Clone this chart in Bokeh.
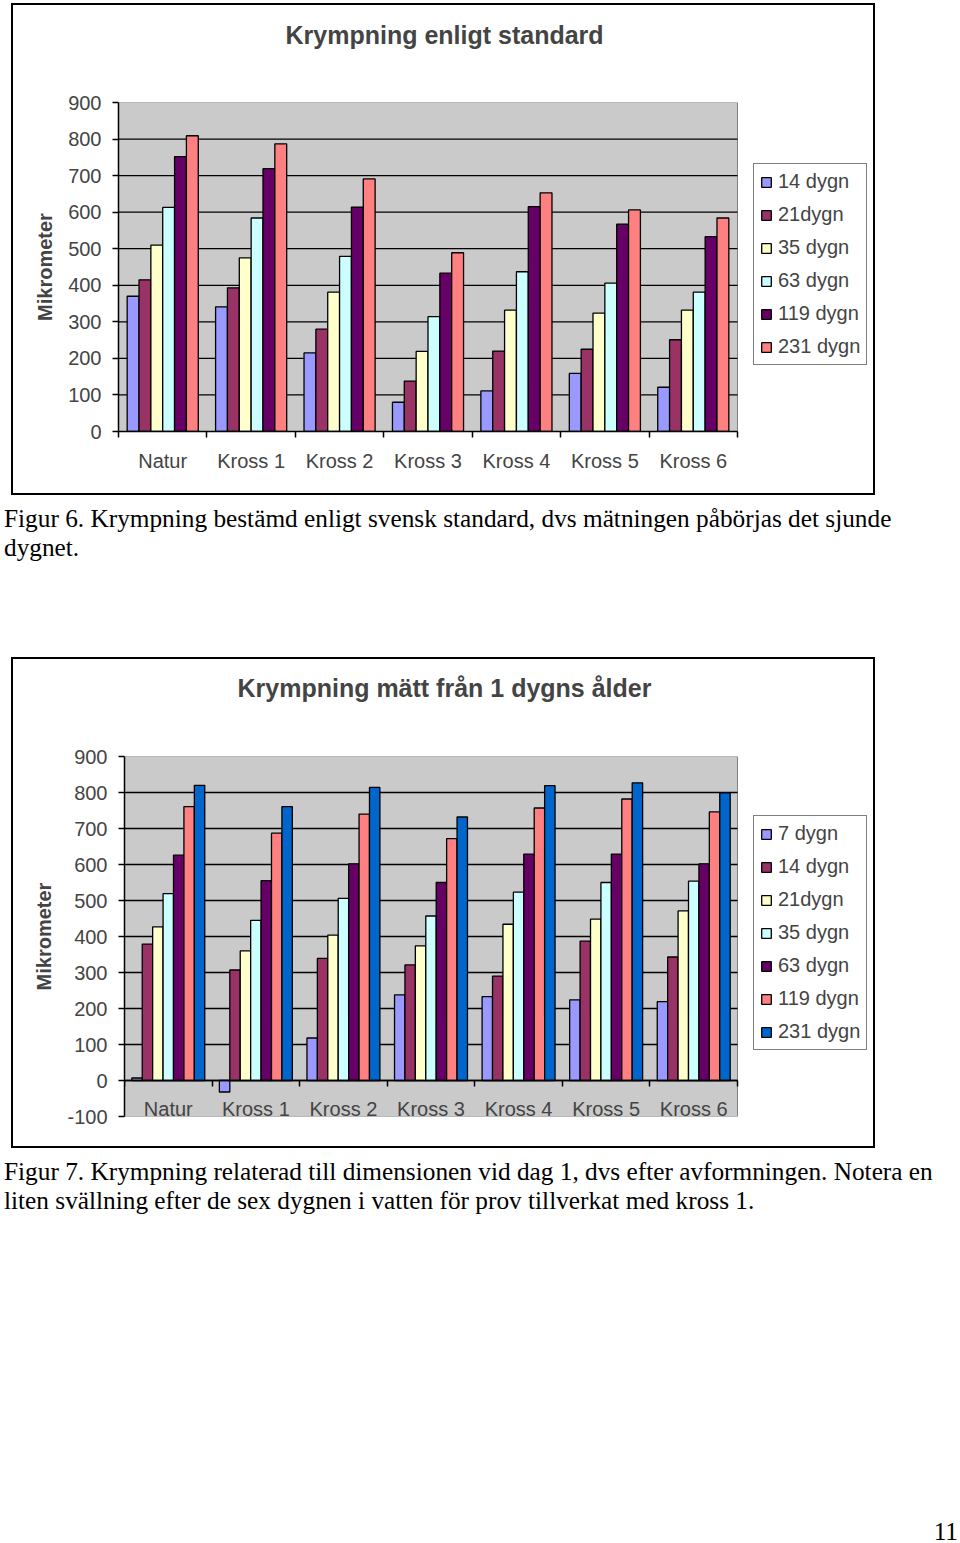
import numpy as np
from bokeh.plotting import figure
from bokeh.models import Range1d, FixedTicker, Legend, LegendItem, Div, ColumnDataSource, Title
from bokeh.layouts import column
from bokeh.embed import file_html
from bokeh.resources import INLINE

# ---------------- data ----------------
categories = ["Natur", "Kross 1", "Kross 2", "Kross 3", "Kross 4", "Kross 5", "Kross 6"]

# Figure 6: shrinkage according to standard
fig6_title = "Krympning enligt standard"
fig6_series = ["14 dygn", "21dygn", "35 dygn", "63 dygn", "119 dygn", "231 dygn"]
fig6_d14 = [370, 341, 215, 80, 111, 159, 121]
fig6_d21 = [415, 393, 280, 138, 220, 225, 251]
fig6_d35 = [510, 475, 381, 219, 332, 324, 332]
fig6_d63 = [613, 584, 479, 314, 437, 406, 381]
fig6_d119 = [752, 719, 614, 433, 615, 567, 533]
fig6_d231 = [809, 787, 691, 489, 653, 606, 584]
fig6_colors = ["#9999FF", "#993366", "#FFFFCC", "#CCFFFF", "#660066", "#FF8080"]
fig6_yticks = [0, 100, 200, 300, 400, 500, 600, 700, 800, 900]

# Figure 7: shrinkage measured from day 1
fig7_title = "Krympning mätt från 1 dygns ålder"
fig7_series = ["7 dygn", "14 dygn", "21dygn", "35 dygn", "63 dygn", "119 dygn", "231 dygn"]
fig7_d7 = [7, -32, 118, 238, 233, 224, 219]
fig7_d14 = [379, 307, 339, 321, 290, 387, 343]
fig7_d21 = [427, 360, 404, 374, 434, 448, 471]
fig7_d35 = [519, 445, 506, 457, 523, 550, 554]
fig7_d63 = [626, 555, 602, 550, 629, 629, 602]
fig7_d119 = [761, 687, 740, 672, 757, 782, 746]
fig7_d231 = [820, 761, 814, 732, 819, 827, 799]
fig7_colors = ["#9999FF", "#993366", "#FFFFCC", "#CCFFFF", "#660066", "#FF8080", "#0066CC"]
fig7_yticks = [-100, 0, 100, 200, 300, 400, 500, 600, 700, 800, 900]

caption6 = ("Figur 6. Krympning bestämd enligt svensk standard, dvs mätningen påbörjas det sjunde<br>"
            "dygnet.")
caption7 = ("Figur 7. Krympning relaterad till dimensionen vid dag 1, dvs efter avformningen. Notera en<br>"
            "liten svällning efter de sex dygnen i vatten för prov tillverkat med kross 1.")
page_number = "11"

SANS = "Liberation Sans"
SERIF = "Liberation Serif"


def box_css(l, t, r, b, w=2):
    """Chart border drawn as four background lines on the (transparent) canvas host."""
    g = "linear-gradient(#000,#000)"
    return {"background": ", ".join([
        f"{g} left {l}px top {t}px / {w}px calc(100% - {t + b}px) no-repeat",
        f"{g} right {r}px top {t}px / {w}px calc(100% - {t + b}px) no-repeat",
        f"{g} left {l}px top {t}px / calc(100% - {l + r}px) {w}px no-repeat",
        f"{g} left {l}px bottom {b}px / calc(100% - {l + r}px) {w}px no-repeat",
    ])}


def make_chart(title, title_offset, spacer, series_names, series_values, colors, yticks,
               bar_width, width, height, plot_w, extra_w, min_top, min_bottom,
               legend_loc, xlabel_standoff, fixed_zero, margin, box):
    n = len(series_names)
    ncat = len(categories)
    x0, x1 = -0.5, ncat - 0.5
    # frame extends to the right of the plot area so that the legend box fits in it
    x_end = x1 + extra_w * ncat / plot_w
    p = figure(width=width, height=height, output_backend="svg", toolbar_location=None,
               title=None,
               x_range=Range1d(x0, x_end),
               y_range=Range1d(yticks[0], yticks[-1]),
               min_border_left=130, min_border_right=6,
               min_border_top=min_top, min_border_bottom=min_bottom,
               background_fill_color=None, border_fill_alpha=0,
               outline_line_color=None,
               styles=box_css(*box), margin=margin)

    # spacer title (closest to frame) + real title
    p.add_layout(Title(text=" ", text_font_size="1px", standoff=spacer), "above")
    p.add_layout(Title(text=title, text_font=SANS, text_font_size="25px",
                       text_font_style="bold", align="left", offset=title_offset,
                       standoff=0), "above")

    # plot area (grey) and horizontal gridlines, limited to the category span
    p.quad(left=[x0], right=[x1], bottom=[yticks[0]], top=[yticks[-1]],
           fill_color="#CACACA", line_color="#808080", line_width=1)
    inner = yticks[1:-1]
    p.segment(x0=[x0] * len(inner), x1=[x1] * len(inner), y0=inner, y1=inner,
              line_color="black", line_width=1.3)

    idx = np.arange(ncat)
    items = []
    for i, (name, vals, col) in enumerate(zip(series_names, series_values, colors)):
        src = ColumnDataSource(dict(x=idx + (i - (n - 1) / 2) * bar_width, top=vals))
        r = p.vbar(x="x", top="top", bottom=0, width=bar_width, source=src,
                   fill_color=col, line_color="black", line_width=1.3)
        items.append(LegendItem(label=name, renderers=[r]))

    # y axis
    yax = p.yaxis[0]
    yax.ticker = FixedTicker(ticks=yticks)
    yax.major_label_overrides = {int(v): str(v) for v in yticks}
    yax.axis_label = "Mikrometer"
    yax.axis_label_text_font = SANS
    yax.axis_label_text_font_size = "20px"
    yax.axis_label_text_font_style = "bold"
    yax.axis_label_standoff = 9
    yax.major_label_text_font = SANS
    yax.major_label_text_font_size = "20px"
    yax.major_label_standoff = 11
    yax.major_tick_out = 6
    yax.major_tick_in = 0
    yax.major_tick_line_width = 1.5
    yax.minor_tick_line_color = None
    yax.axis_line_width = 1.5

    # x axis: labels at category centres, tick marks at category borders
    xax = p.xaxis[0]
    xax.bounds = (x0, x1)
    xax.ticker = FixedTicker(ticks=list(idx), minor_ticks=list(np.arange(ncat + 1) - 0.5))
    xax.major_label_overrides = {int(i): c for i, c in zip(idx, categories)}
    xax.major_label_text_font = SANS
    xax.major_label_text_font_size = "20px"
    xax.major_label_standoff = xlabel_standoff
    xax.major_tick_line_color = None
    xax.major_tick_out = 0
    xax.major_tick_in = 0
    xax.minor_tick_out = 6
    xax.minor_tick_in = 0
    xax.minor_tick_line_color = "black"
    xax.minor_tick_line_width = 1.5
    xax.axis_line_width = 1.5
    if fixed_zero:
        xax.fixed_location = 0

    p.xgrid.grid_line_color = None
    p.ygrid.grid_line_color = None

    legend = Legend(items=items, location=legend_loc,
                    border_line_color="black", border_line_width=1.2,
                    background_fill_color="white", background_fill_alpha=1.0,
                    label_text_font=SANS, label_text_font_size="20px",
                    glyph_width=12, glyph_height=12, label_height=20,
                    spacing=10, padding=6, margin=0, label_standoff=6)
    p.add_layout(legend)
    return p


p6 = make_chart(fig6_title, 167, 51, fig6_series,
                [fig6_d14, fig6_d21, fig6_d35, fig6_d63, fig6_d119, fig6_d231],
                fig6_colors, fig6_yticks, 0.134, 892, 498, 619, 137, 102, 67,
                (635, 66), 12, False, (0, 0, 0, -12), (23, 3, 5, 3))

p7 = make_chart(fig7_title, 113, 52, fig7_series,
                [fig7_d7, fig7_d14, fig7_d21, fig7_d35, fig7_d63, fig7_d119, fig7_d231],
                fig7_colors, fig7_yticks, 0.119, 886, 497, 613, 137, 102, 35,
                (629, 66), 11, True, (92, 0, 0, -6), (17, 3, 5, 3))

cap_style = {"font-family": SERIF, "font-size": "25.3px", "line-height": "29px",
             "white-space": "nowrap", "color": "black"}
d6 = Div(text=caption6, width=944, height=58, styles=cap_style, margin=(6, 0, 0, 4))
d7 = Div(text=caption7, width=944, height=58, styles=cap_style, margin=(6, 0, 0, 4))
dn = Div(text=page_number, width=958, height=29,
         styles=dict(cap_style, **{"text-align": "right"}), margin=(302, 0, 0, 0))

layout = column(p6, d6, p7, d7, dn, spacing=0)

open("out.html", "w").write(file_html(layout, INLINE))
